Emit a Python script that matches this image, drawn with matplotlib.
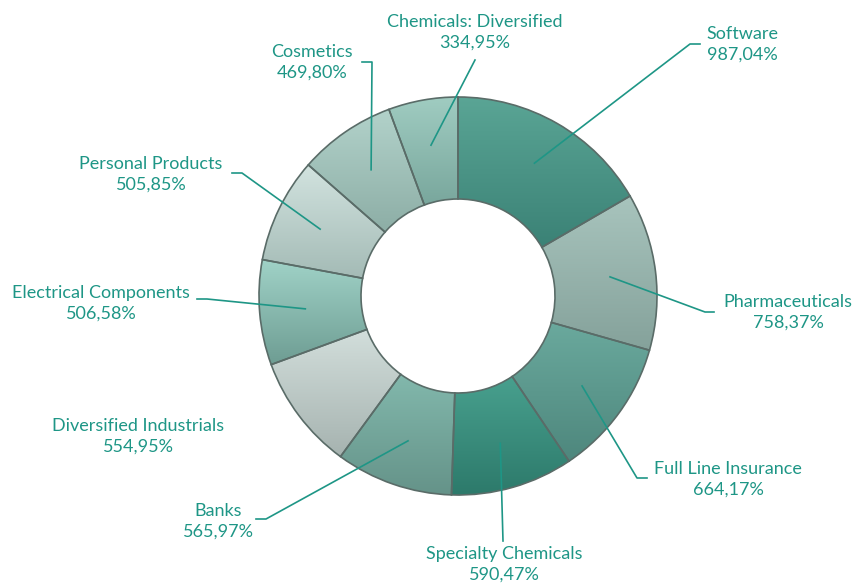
import numpy as np
import matplotlib
matplotlib.use("Agg")
import matplotlib.pyplot as plt
from matplotlib.colors import to_rgb

labels = ["Software", "Pharmaceuticals", "Full Line Insurance", "Specialty Chemicals",
          "Banks", "Diversified Industrials", "Electrical Components", "Personal Products",
          "Cosmetics", "Chemicals: Diversified"]
values = [987.04, 758.37, 664.17, 590.47, 565.97, 554.95, 506.58, 505.85, 469.80, 334.95]

# gradient colours per slice (top, bottom)
top_cols = ["#5aa595", "#a8c4bd", "#6aa99d", "#48a08e", "#82b8ac",
            "#d2dedb", "#a0d2c7", "#d2e3df", "#b2d2ca", "#a0ccc1"]
bot_cols = ["#3b8276", "#85a29b", "#4e877d", "#2d7a6b", "#659389",
            "#a6b3b0", "#6e9d93", "#a4bbb6", "#8daea6", "#79a79d"]

# label block centres (pixels) and leader line ends / tails
label_xy = [(742, 44), (788, 312), (728, 479), (504, 564), (218, 521),
            (138, 436), (101, 303), (151, 174), (312, 62), (475, 32)]
leader_end = [(690, 44), (705, 312), (637, 478), (503, 541), (266, 519),
              None, (207, 299), (242, 173), (372, 62), (475, 60)]
tail = [10, 9, 10, 0, -10, 0, -10, -10, -10, 0]

txt_col = "#1e9686"
cx, cy, R, W = 458, 296, 199, 102

fig = plt.figure(figsize=(8.58, 5.86), dpi=100)
ax = fig.add_axes([0, 0, 1, 1])

# y axis inverted, so start at -90 and go counterclockwise in data = clockwise on screen
wedges, _ = ax.pie(values, center=(cx, cy), radius=R, startangle=-90, counterclock=True,
                   colors=bot_cols, wedgeprops=dict(width=W, linewidth=0), frame=True)
ax.set_xlim(0, 858)
ax.set_ylim(586, 0)

for w, c1, c2 in zip(wedges, top_cols, bot_cols):
    bb = w.get_path().get_extents()
    a, b = np.array(to_rgb(c1)), np.array(to_rgb(c2))
    t = np.linspace(0, 1, 64)[:, None]
    grad = (a * (1 - t) + b * t)[:, None, :]
    im = ax.imshow(grad, extent=(bb.x0, bb.x1, bb.y1, bb.y0), origin="upper",
                   interpolation="bilinear", aspect="auto", zorder=2)
    im.set_clip_path(w)

edges, _ = ax.pie(values, center=(cx, cy), radius=R, startangle=-90, counterclock=True,
                  colors=["none"] * len(values),
                  wedgeprops=dict(width=W, linewidth=1.2, edgecolor="#5a6c68"), frame=True)
for e in edges:
    e.set_zorder(3)

ax.set_xlim(0, 858)
ax.set_ylim(586, 0)
ax.set_aspect("equal")
ax.axis("off")

total = sum(values)
cum = 0
for i, v in enumerate(values):
    mid = -90 + (cum + v / 2) / total * 360
    cum += v
    ax_, ay_ = cx + 0.77 * R * np.cos(np.radians(mid)), cy + 0.77 * R * np.sin(np.radians(mid))
    if leader_end[i] is not None:
        ex, ey = leader_end[i]
        ax.plot([ax_, ex, ex + tail[i]], [ay_, ey, ey], color=txt_col, lw=1.2, zorder=4)
    val = f"{v:.2f}".replace(".", ",") + "%"
    ax.text(label_xy[i][0], label_xy[i][1], labels[i] + "\n" + val, ha="center", va="center",
            color=txt_col, fontsize=13, family="Lato", linespacing=1.38, zorder=5)

fig.savefig("out.png", dpi=100)
